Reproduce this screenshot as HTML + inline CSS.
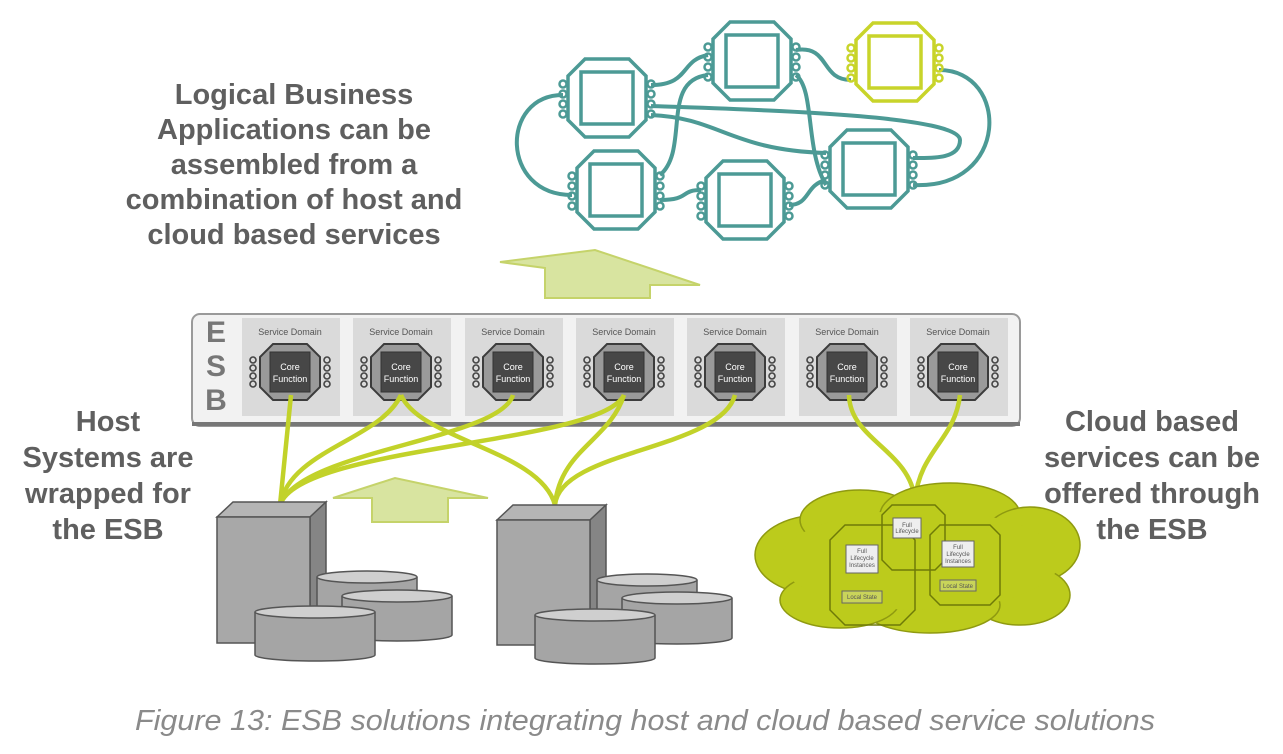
<!DOCTYPE html>
<html><head><meta charset="utf-8"><style>
html,body{margin:0;padding:0;background:#fff;}
svg{display:block;}
.t{font-family:"Liberation Sans",sans-serif;font-weight:bold;fill:#5f5f5f;font-size:29px;text-anchor:middle;}
.sd{font-family:"Liberation Sans",sans-serif;font-size:9px;fill:#555;text-anchor:middle;}
.cf{font-family:"Liberation Sans",sans-serif;font-size:9px;fill:#fff;text-anchor:middle;}
</style></head><body>
<svg width="1283" height="754" viewBox="0 0 1283 754" xmlns="http://www.w3.org/2000/svg">
<defs>
<g id="tchip">
 <polygon points="-22,-39 22,-39 39,-22 39,22 22,39 -22,39 -39,22 -39,-22" fill="#fff" stroke-width="3.5"/>
 <rect x="-26" y="-26" width="52" height="52" fill="none" stroke-width="3.5"/>
 <g fill="none" stroke-width="2.5">
  <circle cx="-44" cy="-14" r="3.5"/><circle cx="-44" cy="-4" r="3.5"/><circle cx="-44" cy="6" r="3.5"/><circle cx="-44" cy="16" r="3.5"/>
  <circle cx="44" cy="-14" r="3.5"/><circle cx="44" cy="-4" r="3.5"/><circle cx="44" cy="6" r="3.5"/><circle cx="44" cy="16" r="3.5"/>
 </g>
</g>
<g id="core">
 <rect x="-48" y="-54" width="98" height="98" fill="#dadada"/>
 <text class="sd" x="0" y="-37">Service Domain</text>
 <polygon points="-17,-28 17,-28 30,-15 30,15 17,28 -17,28 -30,15 -30,-15" fill="#9a9a9a" stroke="#3c3c3c" stroke-width="2"/>
 <rect x="-20" y="-20" width="40" height="40" fill="#474747" stroke="#333"/>
 <text class="cf" x="0" y="-2">Core</text>
 <text class="cf" x="0" y="10">Function</text>
 <g fill="none" stroke="#444" stroke-width="1.6">
  <circle cx="-37" cy="-12" r="3"/><circle cx="-37" cy="-4" r="3"/><circle cx="-37" cy="4" r="3"/><circle cx="-37" cy="12" r="3"/>
  <circle cx="37" cy="-12" r="3"/><circle cx="37" cy="-4" r="3"/><circle cx="37" cy="4" r="3"/><circle cx="37" cy="12" r="3"/>
 </g>
</g>
</defs>

<g fill="none" stroke="#4c9a95" stroke-width="4">
 <path d="M563,95 C500,95 500,195 572,195"/>
 <path d="M651,85 C690,85 680,60 708,55"/>
 <path d="M796,50 C830,45 820,80 851,80"/>
 <path d="M939,70 C1010,70 1010,190 913,185"/>
 <path d="M651,106 C760,110 960,115 960,140 C960,160 930,158 913,158"/>
 <path d="M651,115 C720,118 730,150 826,153"/>
 <path d="M660,175 C690,150 660,80 708,75"/>
 <path d="M660,200 C690,200 680,190 701,190"/>
 <path d="M789,205 C810,205 805,185 826,180"/>
 <path d="M796,75 C815,90 805,150 826,185"/>
</g>
<use href="#tchip" x="607" y="98" stroke="#4c9a95"/>
<use href="#tchip" x="752" y="61" stroke="#4c9a95"/>
<use href="#tchip" x="895" y="62" stroke="#c8d42a"/>
<use href="#tchip" x="616" y="190" stroke="#4c9a95"/>
<use href="#tchip" x="745" y="200" stroke="#4c9a95"/>
<use href="#tchip" x="869" y="169" stroke="#4c9a95"/>

<text class="t" x="294" y="104">Logical Business</text>
<text class="t" x="294" y="139">Applications can be</text>
<text class="t" x="294" y="174">assembled from a</text>
<text class="t" x="294" y="209">combination of host and</text>
<text class="t" x="294" y="244">cloud based services</text>

<text class="t" x="108" y="431">Host</text>
<text class="t" x="108" y="467">Systems are</text>
<text class="t" x="108" y="503">wrapped for</text>
<text class="t" x="108" y="539">the ESB</text>

<text class="t" x="1152" y="431">Cloud based</text>
<text class="t" x="1152" y="467">services can be</text>
<text class="t" x="1152" y="503">offered through</text>
<text class="t" x="1152" y="539">the ESB</text>

<polygon points="500,262 595,250 700,285 650,285 650,298 545,298 545,268" fill="#d8e4a0" stroke="#c5d36a" stroke-width="2"/>

<rect x="192" y="314" width="828" height="112" rx="8" fill="#f2f2f2" stroke="#9a9a9a" stroke-width="2"/>
<rect x="192" y="422" width="828" height="4" fill="#777"/>
<text x="216" y="342" font-family="Liberation Sans,sans-serif" font-weight="bold" font-size="30" fill="#777" text-anchor="middle">E</text>
<text x="216" y="376" font-family="Liberation Sans,sans-serif" font-weight="bold" font-size="30" fill="#777" text-anchor="middle">S</text>
<text x="216" y="410" font-family="Liberation Sans,sans-serif" font-weight="bold" font-size="30" fill="#777" text-anchor="middle">B</text>
<use href="#core" x="290" y="372"/>
<use href="#core" x="401" y="372"/>
<use href="#core" x="513" y="372"/>
<use href="#core" x="624" y="372"/>
<use href="#core" x="735" y="372"/>
<use href="#core" x="847" y="372"/>
<use href="#core" x="958" y="372"/>

<g fill="none" stroke="#c2d22a" stroke-width="4.5">
 <path d="M291,395 L280,505"/>
 <path d="M401,395 C380,440 290,450 280,505"/>
 <path d="M401,395 C420,440 540,450 555,505"/>
 <path d="M513,395 C500,440 300,450 280,505"/>
 <path d="M624,395 C600,445 300,445 280,505"/>
 <path d="M624,395 C610,440 560,450 555,505"/>
 <path d="M735,395 C720,450 560,450 555,505"/>
 <path d="M849,395 C850,440 910,450 915,500"/>
 <path d="M960,395 C955,440 920,450 915,500"/>
</g>

<polygon points="333,498 395,478 488,498 448,498 448,522 372,522 372,498" fill="#d8e4a0" stroke="#c5d36a" stroke-width="2"/>

<g stroke="#555" stroke-width="1.5">
 <polygon points="217,517 233,502 326,502 310,517" fill="#b5b5b5"/>
 <polygon points="310,517 326,502 326,630 310,643" fill="#858585"/>
 <rect x="217" y="517" width="93" height="126" fill="#a8a8a8"/>
 <path d="M317,577 v48 a50,6 0 0 0 100,0 v-48" fill="#a5a5a5"/><ellipse cx="367" cy="577" rx="50" ry="6" fill="#cfcfcf"/>
 <path d="M342,596 v39 a55,6 0 0 0 110,0 v-39" fill="#a5a5a5"/><ellipse cx="397" cy="596" rx="55" ry="6" fill="#cfcfcf"/>
 <path d="M255,612 v43 a60,6 0 0 0 120,0 v-43" fill="#a5a5a5"/><ellipse cx="315" cy="612" rx="60" ry="6" fill="#cfcfcf"/>
</g>
<g stroke="#555" stroke-width="1.5">
 <polygon points="497,520 513,505 606,505 590,520" fill="#b5b5b5"/>
 <polygon points="590,520 606,505 606,632 590,645" fill="#858585"/>
 <rect x="497" y="520" width="93" height="125" fill="#a8a8a8"/>
 <path d="M597,580 v48 a50,6 0 0 0 100,0 v-48" fill="#a5a5a5"/><ellipse cx="647" cy="580" rx="50" ry="6" fill="#cfcfcf"/>
 <path d="M622,598 v40 a55,6 0 0 0 110,0 v-40" fill="#a5a5a5"/><ellipse cx="677" cy="598" rx="55" ry="6" fill="#cfcfcf"/>
 <path d="M535,615 v43 a60,6 0 0 0 120,0 v-43" fill="#a5a5a5"/><ellipse cx="595" cy="615" rx="60" ry="6" fill="#cfcfcf"/>
</g>

<g fill="#bccb1c" stroke="#8f9a10" stroke-width="1.5">
 <ellipse cx="820" cy="555" rx="65" ry="40"/>
 <ellipse cx="860" cy="520" rx="60" ry="30"/>
 <ellipse cx="950" cy="515" rx="70" ry="32"/>
 <ellipse cx="1030" cy="545" rx="50" ry="38"/>
 <ellipse cx="1020" cy="595" rx="50" ry="30"/>
 <ellipse cx="930" cy="605" rx="70" ry="28"/>
 <ellipse cx="840" cy="600" rx="60" ry="28"/>
</g>
<g fill="#bccb1c">
 <ellipse cx="920" cy="560" rx="140" ry="50"/>
</g>
<g fill="none" stroke="#6e7a08" stroke-width="1.5">
 <polygon points="845,525 900,525 915,540 915,610 900,625 845,625 830,610 830,540"/>
 <polygon points="892,505 935,505 945,515 945,560 935,570 892,570 882,560 882,515"/>
 <polygon points="940,525 990,525 1000,535 1000,595 990,605 940,605 930,595 930,535"/>
</g>
<g font-family="Liberation Sans,sans-serif" font-size="6" text-anchor="middle" fill="#555">
 <rect x="846" y="545" width="32" height="28" fill="#eee" stroke="#666"/>
 <text x="862" y="553">Full</text><text x="862" y="560">Lifecycle</text><text x="862" y="567">Instances</text>
 <rect x="842" y="591" width="40" height="12" fill="#c9d45a" stroke="#666"/>
 <text x="862" y="599">Local State</text>
 <rect x="893" y="518" width="28" height="20" fill="#eee" stroke="#666"/>
 <text x="907" y="527">Full</text><text x="907" y="533">Lifecycle</text>
 <rect x="942" y="541" width="32" height="26" fill="#eee" stroke="#666"/>
 <text x="958" y="549">Full</text><text x="958" y="556">Lifecycle</text><text x="958" y="563">Instances</text>
 <rect x="940" y="580" width="36" height="11" fill="#c9d45a" stroke="#666"/>
 <text x="958" y="588">Local State</text>
</g>

<text x="645" y="730" font-family="Liberation Sans,sans-serif" font-style="italic" font-size="29" fill="#8a8a8a" text-anchor="middle" textLength="1020" lengthAdjust="spacingAndGlyphs">Figure 13: ESB solutions integrating host and cloud based service solutions</text>
</svg>
</body></html>
